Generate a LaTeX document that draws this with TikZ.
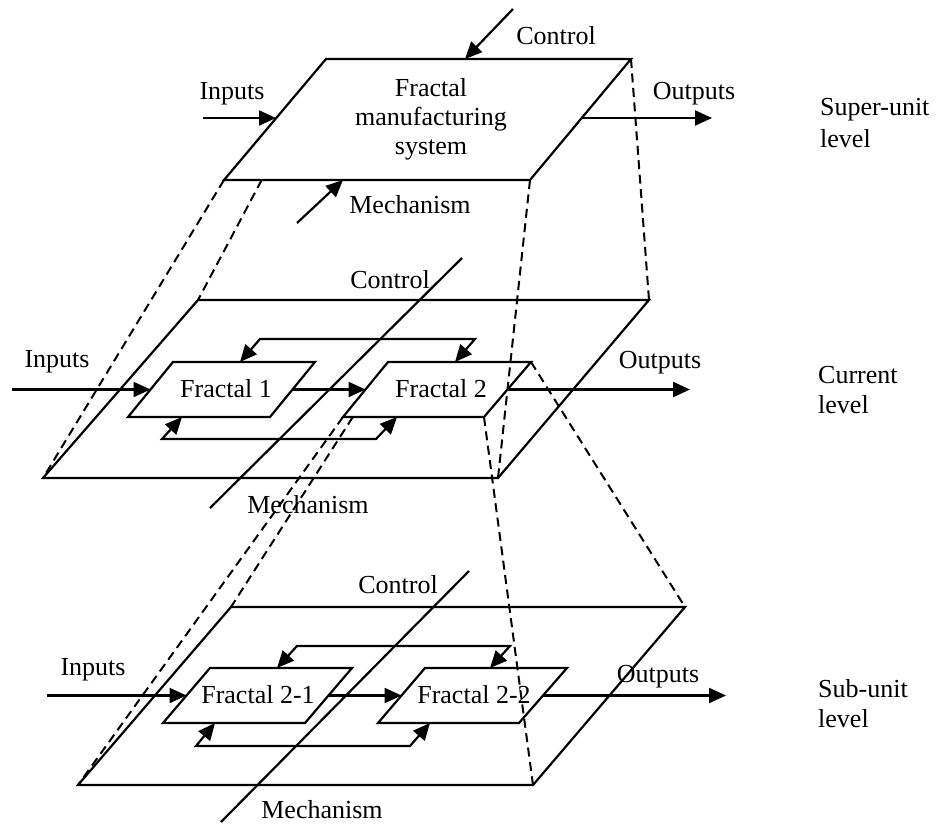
\documentclass[tikz,border=0pt]{standalone}
\usepackage{fontspec}
\setmainfont{Liberation Serif}
\usetikzlibrary{arrows.meta}
\begin{document}
\begin{tikzpicture}[x=1pt,y=-1pt,
  ln/.style={line width=2.2pt, line join=miter},
  arr/.style={ln,-{Triangle[length=17pt,width=15pt]}},
  barr/.style={ln,{Triangle[length=17pt,width=15pt]}-{Triangle[length=17pt,width=15pt]}},
  dsh/.style={line width=2pt, dash pattern=on 9pt off 5.5pt},
  lbl/.style={font=\fontsize{26}{30}\selectfont, inner sep=0pt, anchor=base},
  lvl/.style={lbl, anchor=base west}]
\useasboundingbox (0,0) rectangle (937,824);

% ---------------- Super-unit level ----------------
\coordinate (tTL) at (326,59);
\coordinate (tTR) at (631,59);
\coordinate (tBR) at (530,180);
\coordinate (tBL) at (224,180);
\draw[ln] (tTL)--(tTR)--(tBR)--(tBL)--cycle;
\coordinate (tCs) at (513,9);   \coordinate (tCe) at (465,59);
\coordinate (tIs) at (203,118); \coordinate (tIe) at (276,118);
\coordinate (tOs) at (582,118); \coordinate (tOe) at (712,118);
\coordinate (tMs) at (297,223); \coordinate (tMe) at (343,180);
\draw[arr] (tCs)--(tCe);
\draw[arr] (tIs)--(tIe);
\draw[arr] (tOs)--(tOe);
\draw[arr] (tMs)--(tMe);
\node[lbl] (tCtl) at (556,45) {Control};
\node[lbl] (tIn) at (232,100) {Inputs};
\node[lbl] (tOut) at (694,100) {Outputs};
\node[lbl] (tMech) at (410,213) {Mechanism};
\node[lbl] (tF1) at (431,97) {Fractal};
\node[lbl] (tF2) at (431,126) {manufacturing};
\node[lbl] (tF3) at (431,155) {system};
\node[lvl] (sul1) at (820,116) {Super-unit};
\node[lvl] (sul2) at (820,148) {level};

% ---------------- Current level ----------------
\coordinate (mTL) at (198,300);
\coordinate (mTR) at (649,300);
\coordinate (mBR) at (498,478);
\coordinate (mBL) at (43,478);
\draw[ln] (mTL)--(mTR)--(mBR)--(mBL)--cycle;
\coordinate (aTL) at (173,362); \coordinate (aTR) at (315,362);
\coordinate (aBR) at (270,417); \coordinate (aBL) at (128,417);
\draw[ln] (aTL)--(aTR)--(aBR)--(aBL)--cycle;
\coordinate (bTL) at (388,362); \coordinate (bTR) at (531,362);
\coordinate (bBR) at (484,417); \coordinate (bBL) at (343,417);
\draw[ln] (bTL)--(bTR)--(bBR)--(bBL)--cycle;
\node[lbl] (f1) at (226,397) {Fractal 1};
\node[lbl] (f2) at (441,397) {Fractal 2};
\coordinate (mIs) at (12,389.5);  \coordinate (aL) at (150.5,389.5);
\coordinate (aR) at (292.5,389.5); \coordinate (bL) at (365.5,389.5);
\coordinate (bR) at (507.5,389.5); \coordinate (mOe) at (690,389.5);
\draw[arr] (mIs)--(aL);
\draw[arr] (aR)--(bL);
\draw[arr] (bR)--(mOe);
\coordinate (mfa) at (455,362); \coordinate (mfb) at (475,339);
\coordinate (mfc) at (260,339); \coordinate (mfd) at (240,362);
\draw[barr] (mfa)--(mfb)--(mfc)--(mfd);
\coordinate (mga) at (182,417); \coordinate (mgb) at (162,439);
\coordinate (mgc) at (376,439); \coordinate (mgd) at (397,417);
\draw[barr] (mga)--(mgb)--(mgc)--(mgd);
\coordinate (mCa) at (462,258); \coordinate (mCb) at (210,508);
\draw[ln] (mCa)--(mCb);
\node[lbl] (mIn) at (57,367) {Inputs};
\node[lbl] (mCtl) at (390,288) {Control};
\node[lbl] (mOut) at (660,368) {Outputs};
\node[lbl] (mMech) at (308,513) {Mechanism};
\node[lvl] (cl1) at (818,383) {Current};
\node[lvl] (cl2) at (818,413) {level};

% ---------------- Sub-unit level ----------------
\coordinate (sTL) at (231,607);
\coordinate (sTR) at (685,607);
\coordinate (sBR) at (533,785);
\coordinate (sBL) at (78,785);
\draw[ln] (sTL)--(sTR)--(sBR)--(sBL)--cycle;
\coordinate (cTL) at (210,668); \coordinate (cTR) at (352,668);
\coordinate (cBR) at (305,723); \coordinate (cBL) at (163,723);
\draw[ln] (cTL)--(cTR)--(cBR)--(cBL)--cycle;
\coordinate (dTL) at (425,668); \coordinate (dTR) at (567,668);
\coordinate (dBR) at (519,723); \coordinate (dBL) at (378,723);
\draw[ln] (dTL)--(dTR)--(dBR)--(dBL)--cycle;
\node[lbl] (f21) at (258,703) {Fractal 2-1};
\node[lbl] (f22) at (474,703) {Fractal 2-2};
\coordinate (sIs) at (47,695.5);   \coordinate (cL) at (186.5,695.5);
\coordinate (cR) at (328.5,695.5); \coordinate (dL) at (401.5,695.5);
\coordinate (dR) at (543,695.5);   \coordinate (sOe) at (726,695.5);
\draw[arr] (sIs)--(cL);
\draw[arr] (cR)--(dL);
\draw[arr] (dR)--(sOe);
\coordinate (sfa) at (490,668); \coordinate (sfb) at (510,646);
\coordinate (sfc) at (297,646); \coordinate (sfd) at (277,668);
\draw[barr] (sfa)--(sfb)--(sfc)--(sfd);
\coordinate (sga) at (215,723); \coordinate (sgb) at (196,746);
\coordinate (sgc) at (410,746); \coordinate (sgd) at (430,723);
\draw[barr] (sga)--(sgb)--(sgc)--(sgd);
\coordinate (sCa) at (469,571); \coordinate (sCb) at (221,822);
\draw[ln] (sCa)--(sCb);
\node[lbl] (sIn) at (93,675) {Inputs};
\node[lbl] (sCtl) at (398,593) {Control};
\node[lbl] (sOut) at (658,682) {Outputs};
\node[lbl] (sMech) at (322,818) {Mechanism};
\node[lvl] (ul1) at (818,697) {Sub-unit};
\node[lvl] (ul2) at (818,727) {level};

% ---------------- dashed projection lines ----------------
\coordinate (tTLx) at (261.7,180);
\coordinate (bTLx) at (352.8,417);
\draw[dsh] (tBL)--(mBL);
\draw[dsh] (tTLx)--(mTL);
\draw[dsh] (tBR)--(mBR);
\draw[dsh] (tTR)--(mTR);
\draw[dsh] (bTR)--(sTR);
\draw[dsh] (bBR)--(sBR);
\draw[dsh] (bBL)--(sBL);
\draw[dsh] (bTLx)--(sTL);
\end{tikzpicture}
\end{document}
